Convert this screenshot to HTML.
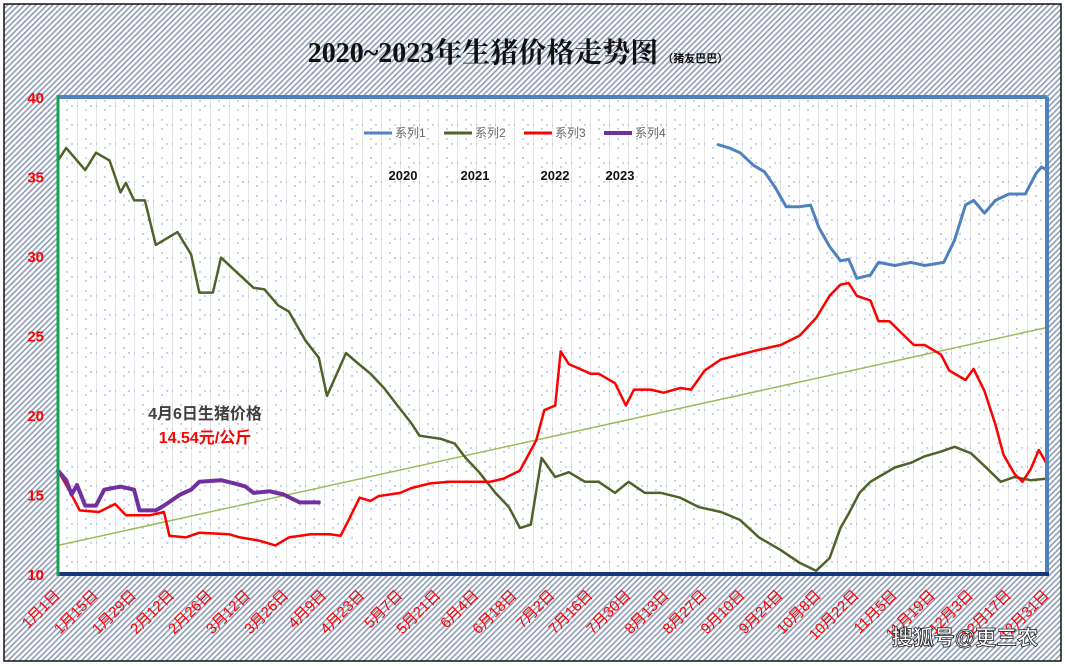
<!DOCTYPE html>
<html><head><meta charset="utf-8"><style>
html,body{margin:0;padding:0;width:1065px;height:666px;overflow:hidden;background:#fff}
svg{display:block;font-family:"Liberation Sans","Noto Sans CJK SC",sans-serif}
</style></head><body>
<svg id="chart" width="1065" height="666">
<defs>
<pattern id="hatch" width="4" height="4" patternUnits="userSpaceOnUse" patternTransform="rotate(45)">
<rect width="4" height="4" fill="#ffffff"/><rect width="1.6" height="4" fill="#8e9cb6"/></pattern>
<pattern id="dots" x="58" y="97" width="19" height="19" patternUnits="userSpaceOnUse">
<rect width="19" height="19" fill="#fff"/><line x1="0.5" y1="0" x2="0.5" y2="19" stroke="#e4e4e4" stroke-width="1"/>
<circle cx="9" cy="4" r="0.7" fill="#6f95d0"/><circle cx="9" cy="13" r="0.7" fill="#6f95d0"/>
<circle cx="0" cy="9" r="0.7" fill="#6f95d0"/><circle cx="14" cy="9" r="0.7" fill="#6f95d0"/></pattern>
</defs>
<rect x="4" y="4" width="1057" height="657" fill="url(#hatch)" stroke="#111" stroke-width="1.5"/>
<rect x="58" y="97" width="989" height="477" fill="url(#dots)"/>
<g id="marks"></g>
<line x1="58" y1="97" x2="1047" y2="97" stroke="#4f81bd" stroke-width="4"/>
<line x1="1047" y1="97" x2="1047" y2="574" stroke="#4f81bd" stroke-width="4"/>
<line x1="58" y1="574" x2="1049" y2="574" stroke="#17377a" stroke-width="4"/>
<line x1="58" y1="95" x2="58" y2="576" stroke="#1aa050" stroke-width="3"/>
<g id="yticks"></g><g id="xticks"></g>
<text x="518" y="62" text-anchor="middle" font-family="'Liberation Serif','Noto Serif CJK SC',serif" font-size="28" font-weight="bold" fill="#111">2020~2023年生猪价格走势图<tspan font-size="11" dx="4" font-family="'Liberation Sans','Noto Sans CJK SC',sans-serif">（猪友巴巴）</tspan></text>
<g font-size="12" fill="#666">
<g><line x1="364" y1="133" x2="392" y2="133" stroke="#4f81bd" stroke-width="3"/><text x="395" y="137">系列1</text></g>
<g><line x1="444" y1="133" x2="472" y2="133" stroke="#4f6228" stroke-width="3"/><text x="475" y="137">系列2</text></g>
<g><line x1="524" y1="133" x2="552" y2="133" stroke="#ff0000" stroke-width="3"/><text x="555" y="137">系列3</text></g>
<g><line x1="604" y1="133" x2="632" y2="133" stroke="#7030a0" stroke-width="4"/><text x="635" y="137">系列4</text></g>
</g>
<g font-size="13" font-weight="bold" fill="#111" text-anchor="middle">
<text x="403" y="180">2020</text>
<text x="475" y="180">2021</text>
<text x="555" y="180">2022</text>
<text x="620" y="180">2023</text>
</g>
<text x="205" y="419" text-anchor="middle" font-size="16" font-weight="bold" fill="#404040">4月6日生猪价格</text>
<text x="205" y="443" text-anchor="middle" font-size="16" font-weight="bold" fill="#ff0000">14.54元/公斤</text>
<text x="965" y="645" text-anchor="middle" font-size="21" font-weight="bold" fill="#fff" stroke="#222" stroke-width="0.8">搜狐号@更三农</text>
</svg>
<script>
const xTickLabels=["1月1日","1月15日","1月29日","2月12日","2月26日","3月12日","3月26日","4月9日","4月23日","5月7日","5月21日","6月4日","6月18日","7月2日","7月16日","7月30日","8月13日","8月27日","9月10日","9月24日","10月8日","10月22日","11月5日","11月19日","12月3日","12月17日","12月31日"];
const yTicks=[10,15,20,25,30,35,40];
const s1Days=[243,247,251,256,260,264,268,273,277,280,284,288,291,294,299,302,308,314,319,326,330,334,337,341,345,350,356,360,362,364];
const s1Vals=[37.0,36.8,36.5,35.7,35.3,34.3,33.1,33.1,33.2,31.8,30.6,29.7,29.8,28.6,28.8,29.6,29.4,29.6,29.4,29.6,31.0,33.2,33.5,32.7,33.5,33.9,33.9,35.2,35.6,35.4];
const s2Days=[0,3,10,14,19,23,25,28,32,36,39,44,49,52,57,60,65,72,76,81,85,91,96,99,106,110,115,120,124,130,133,141,146,150,155,161,166,170,174,178,183,188,194,199,205,210,216,222,229,236,244,251,258,266,273,279,284,288,291,295,299,302,308,314,319,325,330,336,341,347,352,358,364];
const s2Vals=[36.0,36.8,35.4,36.5,36.0,34.0,34.6,33.5,33.5,30.7,31.0,31.5,30.1,27.7,27.7,29.9,29.1,28.0,27.9,26.9,26.5,24.7,23.6,21.2,23.9,23.3,22.6,21.7,20.8,19.5,18.7,18.5,18.2,17.3,16.4,15.1,14.2,12.9,13.1,17.3,16.1,16.4,15.8,15.8,15.1,15.8,15.1,15.1,14.8,14.2,13.9,13.4,12.3,11.5,10.7,10.2,11.0,12.9,13.8,15.1,15.8,16.1,16.7,17.0,17.4,17.7,18.0,17.6,16.8,15.8,16.1,15.9,16.0];
const s3Days=[0,4,8,15,21,25,34,39,41,47,52,63,67,74,80,85,93,100,104,107,111,115,118,126,130,137,144,152,159,164,170,176,179,183,185,188,192,196,199,205,209,212,218,223,229,233,238,244,251,258,266,273,279,284,288,291,294,299,302,306,312,315,319,325,328,334,337,341,345,348,352,355,358,361,364];
const s3Vals=[16.5,15.3,14.0,13.9,14.4,13.7,13.7,13.9,12.4,12.3,12.6,12.5,12.3,12.1,11.8,12.3,12.5,12.5,12.4,13.4,14.8,14.6,14.9,15.1,15.4,15.7,15.8,15.8,15.8,16.0,16.5,18.4,20.3,20.6,24.0,23.2,22.9,22.6,22.6,22.0,20.6,21.6,21.6,21.4,21.7,21.6,22.8,23.5,23.8,24.1,24.4,25.0,26.1,27.5,28.2,28.3,27.5,27.2,25.9,25.9,24.9,24.4,24.4,23.8,22.8,22.2,22.9,21.5,19.4,17.5,16.3,15.8,16.6,17.8,16.9];
const s4Days=[0,3,5,7,10,14,17,23,28,30,36,39,45,49,52,60,65,69,72,78,83,89,96];
const s4Vals=[16.5,15.9,15.0,15.6,14.3,14.3,15.3,15.5,15.3,14.0,14.0,14.3,15.0,15.3,15.8,15.9,15.7,15.5,15.1,15.2,15.0,14.5,14.5];
const trendDays=[0,364];
const trendVals=[11.8,25.5];

const NS="http://www.w3.org/2000/svg";
const X0=58,X1=1047,Y0=574,Y1=97;
const xs=d=>X0+d/364*(X1-X0);
const ys=v=>Y0-(v-10)/30*(Y0-Y1);
const marks=document.getElementById('marks');
function line(days,vals,color,w,name){
  const p=document.createElementNS(NS,'polyline');
  p.setAttribute('points',days.map((d,i)=>xs(d).toFixed(1)+','+ys(vals[i]).toFixed(1)).join(' '));
  p.setAttribute('fill','none');p.setAttribute('stroke',color);p.setAttribute('stroke-width',w);
  p.setAttribute('stroke-linejoin','round');p.setAttribute('stroke-linecap','round');
  
  
  marks.appendChild(p);
}
line(trendDays,trendVals,'#9bbb59',1.5,'trend-line');
line(s2Days,s2Vals,'#4f6228',2.5,'series2-2021-line');
line(s3Days,s3Vals,'#ff0000',2.5,'series3-2022-line');
line(s1Days,s1Vals,'#4f81bd',3,'series1-2020-line');
line(s4Days,s4Vals,'#7030a0',4,'series4-2023-line');
const yt=document.getElementById('yticks');
yTicks.forEach(v=>{
  const t=document.createElementNS(NS,'text');
  t.setAttribute('x',44);t.setAttribute('y',ys(v)+6);t.setAttribute('text-anchor','end');
  t.setAttribute('font-size','15');t.setAttribute('font-weight','bold');t.setAttribute('fill','#ff0000');
  t.textContent=v;
  
  
  yt.appendChild(t);
});
const xt=document.getElementById('xticks');
xTickLabels.forEach((s,i)=>{
  const x=xs(i*14);
  const t=document.createElementNS(NS,'text');
  t.setAttribute('transform','translate('+(x+3)+',596) rotate(-45)');
  t.setAttribute('text-anchor','end');
  t.setAttribute('font-size','15');t.setAttribute('fill','#ff0000');
  t.textContent=s;
  
  
  xt.appendChild(t);
});
</script>
</body></html>
